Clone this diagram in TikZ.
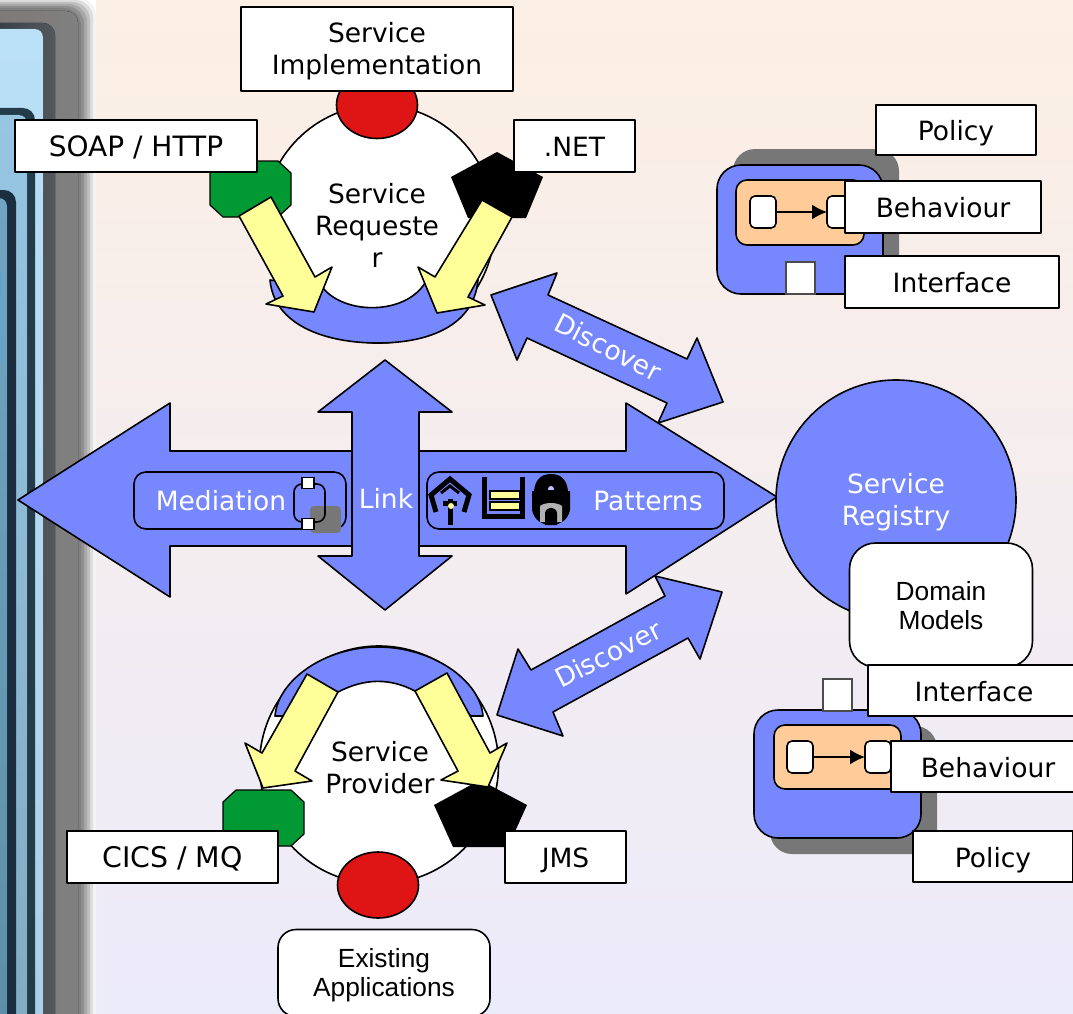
\documentclass[tikz,border=0pt]{standalone}
\usepackage{fontspec}
\setmainfont{DejaVu Sans}
\newfontfamily\arialf{Liberation Sans}
\usetikzlibrary{arrows.meta,shapes.geometric}
\definecolor{mainblue}{HTML}{7788FF}
\definecolor{redc}{HTML}{DF1515}
\definecolor{greenc}{HTML}{009933}
\definecolor{yellowc}{HTML}{FFFF99}
\definecolor{orangec}{HTML}{FFCC99}
\definecolor{shadowc}{HTML}{777777}
\tikzset{
  every node/.style={inner sep=0pt,outer sep=0pt},
  ink/.style={draw=black,line width=1.6pt,line join=round},
  lblstyle/.style={ink,fill=white,text height=23pt,text depth=2pt,font=\fontsize{26.5}{32}\selectfont},
  plainframe/.style={ink,fill=white},
  roundframe/.style={ink,fill=white,rounded corners=18pt},
  oval/.style={ellipse,ink},
  bluepart/.style={ink,fill=mainblue},
  yarrow/.style={ink,fill=yellowc},
  whitetxt/.style={text=white,align=center,font=\fontsize{26.5}{32}\selectfont},
  blacktxt/.style={text=black,align=center,font=\fontsize{26.5}{32}\selectfont},
  ariallbl/.style={text=black,align=center,font=\arialf\fontsize{26.3}{29}\selectfont},
  minicell/.style={draw=black,line width=1.6pt,fill=white,rounded corners=5pt,minimum width=26pt,minimum height=32pt},
  portcell/.style={draw=black!70,line width=1.2pt,fill=white,minimum width=29pt,minimum height=32pt},
  linkarrow/.style={draw=black,line width=1.6pt,-{Latex[length=15pt,width=15pt]}},
  iconline/.style={draw=black,line width=5pt,line join=miter},
}
% name, x1, y1, x2, y2, text
\newcommand{\lblbox}[6]{%
  \pgfmathsetmacro{\cxv}{(#2+#4)/2}\pgfmathsetmacro{\cyv}{(#3+#5)/2}%
  \pgfmathsetmacro{\wv}{#4-#2}\pgfmathsetmacro{\hv}{#5-#3}%
  \node[lblstyle,minimum width=\wv pt,minimum height=\hv pt] (#1) at (\cxv,\cyv) {#6};}
\definecolor{bgtop}{RGB}{252,239,228}
\definecolor{bgbot}{RGB}{236,235,250}
\definecolor{wgrayA}{RGB}{124,118,116}
\definecolor{wgrayB}{RGB}{128,128,128}
\definecolor{frA}{RGB}{34,48,58}
\definecolor{frB}{RGB}{84,88,92}
\definecolor{inA}{RGB}{186,224,248}
\definecolor{inB}{RGB}{170,206,230}
\definecolor{frC}{RGB}{36,60,74}
\definecolor{inC}{RGB}{150,198,226}
\definecolor{inD}{RGB}{130,170,194}
\definecolor{frD}{RGB}{26,46,64}
\definecolor{inE}{RGB}{112,164,194}
\definecolor{inF}{RGB}{92,142,168}
\definecolor{inG}{RGB}{96,164,206}
\begin{document}
\begin{tikzpicture}[x=1pt,y=-1pt]
\useasboundingbox (0,0) rectangle (1073,1014);
\clip (0,0) rectangle (1073,1014);
% page
\fill[white] (0,0) rectangle (96,1014);
\shade[top color=bgtop,bottom color=bgbot] (96,0) rectangle (1073,1014);
% left band: soft shadow
\foreach \r/\t/\c in {96/-2/F4F4F4,93/0/DDDDDD,90/2/C0C0C0,87/4/A8A8A8,84/6/909090,81/8/808080}{
  \definecolor{tmpc}{HTML}{\c}
  \fill[tmpc,rounded corners=18pt] (-40,\t) rectangle (\r,1060);
}
\fill[left color=wgrayA,right color=wgrayB,rounded corners=12pt] (-40,11) rectangle (78,1060);
% frames
\fill[left color=frA,right color=frB,rounded corners=12pt] (-40,23) rectangle (55,1060);
\fill[top color=inA,bottom color=inB,rounded corners=8pt] (-40,29) rectangle (43,1060);
\fill[fill=frC,rounded corners=12pt] (-40,108) rectangle (35,1060);
\fill[top color=inC,bottom color=inD,rounded corners=8pt] (-40,115) rectangle (27,1060);
\fill[fill=frD,rounded corners=12pt] (-40,190) rectangle (16,1060);
\fill[top color=inE,bottom color=inF,rounded corners=8pt] (-40,198) rectangle (7,1060);
\fill[fill=inG] (0,272) rectangle (2,362);

% Discover arrows
\draw[bluepart] (491,295) -- (557,273) -- (548,295) -- (687,359) -- (697,338) -- (723,402) -- (658,423) -- (667,403) -- (527,338) -- (517,360) -- cycle;
\draw[bluepart] (497,715) -- (518,649) -- (531,670) -- (665,596) -- (655,576) -- (722,592) -- (700,659) -- (688,638) -- (553,712) -- (563,736) -- cycle;
\node[whitetxt,rotate=-27] (discoverA) at (608,347) {Discover};
\node[whitetxt,rotate=27] (discoverB) at (608,654) {Discover};

% Big horizontal arrow
\draw[bluepart] (18,500) -- (170,403) -- (170,451) -- (626,451) -- (626,403) -- (777,497) -- (626,594) -- (626,546) -- (170,546) -- (170,597) -- cycle;
% Mediation box
\draw[bluepart,rounded corners=12pt] (134,472) rectangle (346,529);
\fill[shadowc,rounded corners=4pt] (310,506) rectangle (341,533);
\node[whitetxt] (mediation) at (221,501) {Mediation};
\draw[ink,rounded corners=8pt] (294,484) rectangle (325,522);
\node[draw=black,line width=1.4pt,fill=white,minimum width=12pt,minimum height=11pt] (medtop) at (308,483) {};
\node[draw=black,line width=1.4pt,fill=white,minimum width=12pt,minimum height=11pt] (medbot) at (308,524) {};
% Patterns box
\draw[bluepart,rounded corners=12pt] (427,472) rectangle (724,529);
\node[whitetxt] (patterns) at (648,501) {Patterns};
% Icon 1
\draw[iconline] (436,512) -- (431,495) -- (450,479) -- (469,495) -- (464,512);
\draw[iconline,line width=3pt] (441,493) -- (450,486) -- (459,493);
\draw[iconline] (450,499) -- (450,525);
\draw[iconline] (443,503) -- (457,503);
\fill[yellowc] (451,506) circle (3pt);
% Icon 2
\draw[iconline] (484,477) -- (484,516) -- (522,516) -- (522,477);
\draw[draw=black,line width=2pt,fill=yellowc] (490,491) rectangle (520,499);
\draw[draw=black,line width=2pt,fill=yellowc] (490,502) rectangle (520,510);
% Icon 3
\fill[black] (551,474) .. controls (539,474) and (535,482) .. (534,491) -- (532,491) -- (532,510) .. controls (534,520) and (542,525) .. (551,525) .. controls (560,525) and (568,520) .. (570,510) -- (570,491) -- (568,491) .. controls (567,482) and (563,474) .. (551,474) -- cycle;
\fill[mainblue!50!white] (551,489) circle (3pt);
\fill[black] (546,490) rectangle (556,493);
\fill[black!30!white] (540,522) -- (540,506) .. controls (545,502) and (557,502) .. (562,506) -- (562,522) -- cycle;
\fill[black] (545,525) -- (545,513) .. controls (546,506) and (556,506) .. (557,513) -- (557,525) -- cycle;

% Vertical arrow
\draw[bluepart] (385,360) -- (452,412) -- (419,412) -- (419,556) -- (452,556) -- (385,610) -- (318,556) -- (352,556) -- (352,412) -- (318,412) -- cycle;
\node[whitetxt] (link) at (386,498) {Link};

% Service requester
\node[oval,fill=white,minimum width=232pt,minimum height=238pt] (requester) at (379,224) {};
\node[oval,fill=redc,minimum width=81pt,minimum height=67pt] (reqred) at (377,105) {};
\draw[bluepart] (270,280) .. controls (274,325) and (325,343) .. (378,343) .. controls (430,343) and (474,325) .. (478,280) -- (425,283) .. controls (405,315) and (345,315) .. (323,288) -- cycle;
\fill[greenc,draw=black,line width=1.2pt,line join=round] (223,161) -- (278,161) -- (291,173) -- (291,205) -- (278,217) -- (223,217) -- (210,205) -- (210,173) -- cycle;
\fill[black] (497,152) -- (543,177) -- (526,218) -- (468,218) -- (451,177) -- cycle;
\draw[yarrow] (239,216) -- (271,197) -- (315,277) -- (332,267) -- (314,312) -- (266,304) -- (283,296) -- cycle;
\draw[yarrow] (512,217) -- (482,200) -- (435,277) -- (418,267) -- (437,313) -- (485,305) -- (468,297) -- cycle;
\node[blacktxt] (requestertxt) at (377,225) {Service\\Requeste\\r};
\node[plainframe,minimum width=272pt,minimum height=84pt] (impl) at (377,49) {};
\node[blacktxt] (impltxt) at (377,51) {Service\\Implementation};
\lblbox{soap}{15}{120}{257}{172}{\fontsize{28}{32}\selectfont SOAP / HTTP}
\lblbox{net}{514}{120}{635}{172}{.NET}

% Service provider
\node[oval,fill=white,minimum width=239pt,minimum height=238pt] (provider) at (379,765) {};
\draw[bluepart] (275,716) .. controls (278,680) and (325,647) .. (378,647) .. controls (432,647) and (480,680) .. (483,716) -- (472,716) -- (415,691) .. controls (390,678) and (365,678) .. (338,692) -- (285,716) -- cycle;
\node[oval,fill=redc,minimum width=81pt,minimum height=66pt] (provred) at (378,885) {};
\fill[greenc,draw=black,line width=1.2pt,line join=round] (236,790) -- (291,790) -- (304,802) -- (304,834) -- (291,846) -- (236,846) -- (223,834) -- (223,802) -- cycle;
\fill[black] (480,780) -- (527,805) -- (508,847) -- (453,847) -- (434,805) -- cycle;
\draw[yarrow] (307,674) -- (338,692) -- (295,771) -- (312,781) -- (263,788) -- (245,743) -- (262,753) -- cycle;
\draw[yarrow] (447,673) -- (415,691) -- (458,771) -- (441,780) -- (488,787) -- (507,743) -- (490,753) -- cycle;
\node[blacktxt] (providertxt) at (380,768) {Service\\Provider};
\lblbox{cics}{67}{831}{278}{883}{\fontsize{28.4}{32}\selectfont CICS / MQ}
\lblbox{jms}{505}{831}{626}{883}{JMS}
\node[roundframe,minimum width=212pt,minimum height=87pt] (existing) at (384,973) {};
\node[ariallbl] (existingtxt) at (384,975) {Existing\\Applications};

% Registry
\node[oval,fill=mainblue,minimum width=240pt,minimum height=240pt] (registry) at (896,500) {};
\node[whitetxt] (registrytxt) at (896,502) {Service\\Registry};
\node[roundframe,rounded corners=26pt,minimum width=183pt,minimum height=124pt] (domain) at (941,605) {};
\node[ariallbl] (domaintxt) at (941,606) {Domain\\Models};

% Upper component
\fill[shadowc,rounded corners=22pt] (733,149) rectangle (899,278);
\draw[bluepart,rounded corners=24pt] (717,165) rectangle (883,294);
\draw[ink,fill=orangec,rounded corners=11pt] (736,180) rectangle (864,245);
\node[minicell] (ua) at (763,212) {};
\node[minicell] (ub) at (840,212) {};
\draw[linkarrow] (ua) -- (ub);
\node[portcell] (uport) at (800.5,278) {};
\lblbox{upol}{876}{105}{1036}{155}{Policy}
\lblbox{ubeh}{845}{181}{1041}{233}{Behaviour}
\lblbox{uint}{845}{256}{1059}{308}{Interface}

% Lower component
\fill[shadowc,rounded corners=22pt] (770,726) rectangle (937,854);
\draw[bluepart,rounded corners=24pt] (754,710) rectangle (921,838);
\draw[ink,fill=orangec,rounded corners=11pt] (774,725) rectangle (901,789);
\node[minicell] (la) at (800,757) {};
\node[minicell] (lb) at (878,757) {};
\draw[linkarrow] (la) -- (lb);
\node[portcell] (lport) at (837.5,695) {};
\lblbox{lint}{868}{665}{1080}{716}{Interface}
\lblbox{lbeh}{891}{741}{1085}{792}{Behaviour}
\lblbox{lpol}{913}{831}{1073}{882}{Policy}
\end{tikzpicture}
\end{document}
